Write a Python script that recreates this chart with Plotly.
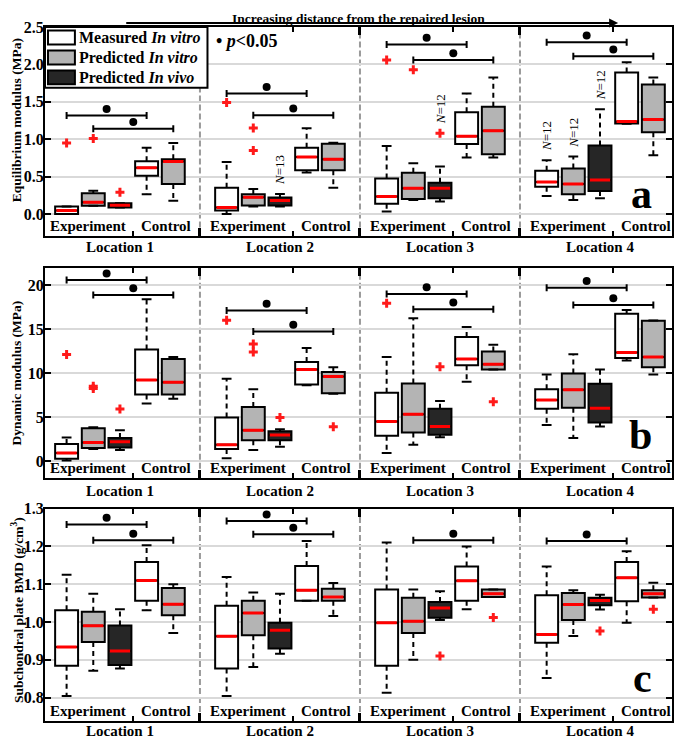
import plotly.graph_objects as go

FONT = "Liberation Serif, Times New Roman, serif"

# box order inside each location:
# Measured exp, Predicted in vitro exp, Predicted in vivo exp, Measured control, Predicted in vitro control
fills = ["white", "#b4b4b4", "#262626", "white", "#b4b4b4"]
locations = ["Location 1", "Location 2", "Location 3", "Location 4"]
legend_names = ["Measured <i>In vitro</i>", "Predicted <i>In vitro</i>", "Predicted <i>In vivo</i>"]

# a: equilibrium modulus (MPa)
a_lo = [0.0, 0.11, 0.086, 0.263, 0.175, 0.0, 0.1, 0.1, 0.555, 0.35,
        0.033, 0.188, 0.166, 0.756, 0.756, 0.24, 0.188, 0.21, 1.205, 0.785]
a_q1 = [0.0, 0.11, 0.086, 0.51, 0.40, 0.046, 0.113, 0.113, 0.586, 0.586,
        0.135, 0.201, 0.21, 0.935, 0.798, 0.365, 0.263, 0.307, 1.21, 1.094]
a_med = [0.045, 0.157, 0.117, 0.617, 0.70, 0.086, 0.223, 0.179, 0.763, 0.732,
         0.232, 0.343, 0.343, 1.04, 1.112, 0.427, 0.40, 0.453, 1.236, 1.262]
a_q3 = [0.1, 0.276, 0.143, 0.705, 0.73, 0.35, 0.263, 0.22, 0.886, 0.94,
        0.475, 0.55, 0.418, 1.36, 1.434, 0.577, 0.608, 0.917, 1.89, 1.73]
a_hi = [0.1, 0.31, 0.143, 0.886, 0.95, 0.696, 0.334, 0.268, 1.147, 0.952,
        0.908, 0.679, 0.634, 1.61, 1.824, 0.718, 0.77, 1.40, 2.03, 1.824]
a_out_box = [0, 1, 2, 5, 6, 6, 10, 11, 12]
a_out_val = [0.95, 1.01, 0.29, 1.49, 1.15, 0.85, 2.06, 1.93, 1.08]
a_sig_from = [0, 1, 5, 6, 10, 11, 15, 16]
a_sig_to = [3, 4, 8, 9, 13, 14, 18, 19]
a_sig_y = [1.315, 1.14, 1.61, 1.32, 2.266, 2.058, 2.297, 2.11]
a_n_box = [7, 12, 15, 16, 17]
a_n = [13, 12, 12, 12, 12]

# b: dynamic modulus (MPa)
b_lo = [0.05, 1.36, 1.24, 6.52, 7.08, 0.3, 1.24, 1.62, 8.62, 7.65,
        0.9, 1.85, 2.71, 9.0, 10.4, 4.1, 2.6, 3.92, 11.41, 9.83]
b_q1 = [0.25, 1.47, 1.54, 7.57, 7.57, 1.36, 2.37, 2.37, 8.7, 7.7,
        2.86, 3.24, 2.98, 10.88, 10.4, 5.95, 6.06, 4.37, 11.71, 10.66]
b_med = [0.9, 2.1, 2.18, 9.19, 8.96, 1.85, 3.5, 2.94, 10.4, 9.6,
         4.48, 5.31, 3.92, 11.6, 11.0, 6.93, 8.1, 5.99, 12.32, 11.83]
b_q3 = [1.92, 3.73, 2.6, 12.66, 11.6, 4.93, 6.14, 3.39, 11.26, 10.1,
        7.76, 8.81, 5.95, 14.09, 12.43, 8.14, 9.94, 8.78, 16.72, 15.93]
b_hi = [2.67, 3.84, 3.5, 18.38, 11.83, 9.34, 8.14, 3.6, 12.84, 10.66,
        11.83, 16.23, 6.82, 15.22, 13.2, 9.83, 12.13, 10.4, 17.17, 15.97]
b_out_box = [0, 1, 1, 2, 5, 6, 6, 7, 9, 10, 12, 14]
b_out_val = [12.1, 8.5, 8.25, 5.9, 16.0, 13.3, 12.4, 4.95, 3.9, 17.93, 10.7, 6.74]
b_sig_from = [0, 1, 5, 6, 10, 11, 15, 16]
b_sig_to = [3, 4, 8, 9, 13, 14, 18, 19]
b_sig_y = [20.56, 18.87, 17.1, 14.73, 18.98, 17.25, 19.7, 17.74]

# c: subchondral plate BMD (g/cm3)
c_lo = [0.804, 0.871, 0.877, 1.031, 0.971, 0.804, 0.881, 0.916, 1.056, 1.016,
        0.813, 0.9, 1.005, 1.034, 1.066, 0.852, 0.963, 1.033, 0.998, 1.065]
c_q1 = [0.884, 0.947, 0.886, 1.056, 1.018, 0.877, 0.965, 0.93, 1.056, 1.056,
        0.884, 0.971, 1.011, 1.056, 1.066, 0.945, 1.005, 1.044, 1.055, 1.065]
c_med = [0.934, 0.99, 0.923, 1.11, 1.047, 0.962, 1.024, 0.978, 1.084, 1.066,
         0.998, 1.002, 1.037, 1.109, 1.075, 0.967, 1.046, 1.057, 1.117, 1.075]
c_q3 = [1.031, 1.027, 0.991, 1.159, 1.09, 1.043, 1.056, 0.998, 1.148, 1.088,
        1.086, 1.064, 1.053, 1.147, 1.086, 1.071, 1.077, 1.064, 1.159, 1.084]
c_hi = [1.125, 1.075, 1.034, 1.203, 1.1, 1.119, 1.078, 1.075, 1.214, 1.103,
        1.21, 1.086, 1.081, 1.2, 1.086, 1.147, 1.084, 1.072, 1.187, 1.104]
c_out_box = [12, 14, 17, 19]
c_out_val = [0.91, 1.012, 0.976, 1.034]
c_sig_from = [0, 1, 5, 6, 11, 15]
c_sig_to = [3, 4, 8, 9, 14, 18]
c_sig_y = [1.258, 1.216, 1.267, 1.232, 1.216, 1.214]

pos = [loc * 6 + j + 1 for loc in range(4) for j in range(5)]

# the page body keeps its default 8px margin, so the figure is drawn 8px smaller
OFF = 8
W, H = 685 - OFF, 741 - OFF
ML, MR, MT, MB = 45 - OFF, 11, 25 - OFF, 20
PW, PH = W - ML - MR, H - MT - MB


def px_x(px):
    # page pixel -> paper x
    return (px - OFF - ML) / PW


def px_y(py):
    # page pixel -> paper y
    return (H + OFF - MB - py) / PH


fig = go.Figure()


def add_panel(n, lo, q1, med, q3, hi, out_box, out_val, sig_from, sig_to, sig_y, yrng, hpx):
    xa = "x" if n == 1 else "x%d" % n
    ya = "y" if n == 1 else "y%d" % n
    common = dict(xaxis=xa, yaxis=ya, showlegend=False, hoverinfo="skip")

    # whiskers (dashed) + caps
    wx, wy = [], []
    for p, a, b, c, d in zip(pos, lo, q1, q3, hi):
        wx += [p, p, None, p, p, None]
        wy += [c, d, None, b, a, None]
    fig.add_trace(go.Scatter(x=wx, y=wy, mode="lines",
                             line=dict(color="black", width=2, dash="5px,4px"), **common))
    fig.add_trace(go.Scatter(x=pos + pos, y=hi + lo, mode="markers",
                             marker=dict(symbol="line-ew", size=7, line=dict(width=2, color="black")),
                             **common))

    # boxes
    for j in range(3):
        idx = [i for i in range(20) if fills[i % 5] == fills[j]]
        fig.add_trace(go.Box(
            x=[pos[i] for i in idx], q1=[q1[i] for i in idx], median=[med[i] for i in idx],
            q3=[q3[i] for i in idx], lowerfence=[q1[i] for i in idx], upperfence=[q3[i] for i in idx],
            orientation="v", width=0.86, whiskerwidth=0, boxpoints=False,
            fillcolor=fills[j], line=dict(color="black", width=2), **common))

    # red medians
    fig.add_trace(go.Scatter(x=pos, y=med, mode="markers",
                             marker=dict(symbol="line-ew", size=14.5, line=dict(width=3, color="#ff0000")),
                             **common))
    # outliers
    fig.add_trace(go.Scatter(x=[pos[i] for i in out_box], y=out_val, mode="markers",
                             marker=dict(symbol="cross", size=7.5, color="#ff1a1a"), **common))

    # significance bars
    sx, sy = [], []
    for f, t, yv in zip(sig_from, sig_to, sig_y):
        sx += [pos[f], pos[t], None]
        sy += [yv, yv, None]
    fig.add_trace(go.Scatter(x=sx, y=sy, mode="lines+markers", line=dict(color="black", width=2),
                             marker=dict(symbol="line-ns", size=5, line=dict(width=2, color="black")),
                             **common))
    off = 6.7 * (yrng[1] - yrng[0]) / hpx
    fig.add_trace(go.Scatter(x=[(pos[f] + pos[t]) / 2 for f, t in zip(sig_from, sig_to)],
                             y=[yv + off for yv in sig_y], mode="markers",
                             marker=dict(symbol="circle", size=8, color="black"), **common))


add_panel(1, a_lo, a_q1, a_med, a_q3, a_hi, a_out_box, a_out_val, a_sig_from, a_sig_to, a_sig_y, [-0.3, 2.5], 210)
add_panel(2, b_lo, b_q1, b_med, b_q3, b_hi, b_out_box, b_out_val, b_sig_from, b_sig_to, b_sig_y, [-1.9, 21.9], 210)
add_panel(3, c_lo, c_q1, c_med, c_q3, c_hi, c_out_box, c_out_val, c_sig_from, c_sig_to, c_sig_y, [0.738, 1.3], 213)

panels = [
    # (y domain page px top, bottom), y range, tick values, tick format, title, title centre, label shift
    ((25, 235), [-0.3, 2.5], [0, 0.5, 1, 1.5, 2, 2.5], ".1f", "Equilibrium modulus (MPa)", 0.552, -2),
    ((267, 477), [-1.9, 21.9], [0, 5, 10, 15, 20], "d", "Dynamic modulus (MPa)", 0.5, -4),
    ((508, 721), [0.738, 1.3], [0.8, 0.9, 1.0, 1.1, 1.2, 1.3], ".1f",
     "Subchondral plate BMD (g/cm<sup>3</sup>)", 0.52, -1),
]

tfont = dict(family=FONT, size=16, color="black", weight="bold")
shapes = []
annotations = []
for n, (dom, rng, tv, fmt, title, tc, lshift) in enumerate(panels, start=1):
    s = "" if n == 1 else str(n)
    fig.update_layout({
        "xaxis" + s: dict(domain=[0, 1], anchor="y" + s, range=[0.19, 23.7], showticklabels=False,
                          tickmode="array", tickvals=[3.5, 9.5, 15.5, 21.5], ticks="inside",
                          ticklen=5, tickwidth=2, tickcolor="black",
                          minor=dict(tickmode="array", tickvals=[6, 12, 18], ticks="inside",
                                     ticklen=8, tickwidth=3, tickcolor="black", showgrid=False),
                          showline=True, linewidth=2, linecolor="black", mirror="ticks",
                          showgrid=False, zeroline=False),
        "yaxis" + s: dict(domain=[px_y(dom[1]), px_y(dom[0])], anchor="x" + s, range=rng,
                          tickmode="array", tickvals=tv, tickformat=fmt, ticks="inside",
                          ticklen=6, tickwidth=1.5, tickcolor="black", tickfont=tfont,
                          ticklabelstandoff=-4,
                          showline=True, linewidth=2, linecolor="black", mirror="ticks",
                          showgrid=True, gridcolor="#d9d9d9", gridwidth=2, zeroline=False),
    })
    xr = "x" + s
    yd = "y" + s + " domain"
    for v in [6, 12, 18]:
        shapes.append(dict(type="line", xref=xr, yref=yd, x0=v, x1=v, y0=0, y1=1, layer="below",
                           line=dict(color="#9a9a9a", width=2, dash="6px,3px")))
    for k, name in enumerate(locations):
        annotations.append(dict(text=name, x=k * 6 + 3, xref=xr, y=0, yref=yd, yanchor="top",
                                yshift=lshift, showarrow=False, borderpad=0,
                                font=dict(family=FONT, size=15, color="black", weight="bold")))
        annotations.append(dict(text="Experiment", x=k * 6 + 3.5, xref=xr, xanchor="right", xshift=-5,
                                y=0, yref=yd, yanchor="bottom", yshift=0, showarrow=False,
                                font=dict(family=FONT, size=15, color="black", weight="bold")))
        annotations.append(dict(text="Control", x=k * 6 + 3.5, xref=xr, xanchor="left", xshift=6,
                                y=0, yref=yd, yanchor="bottom", yshift=0, showarrow=False,
                                font=dict(family=FONT, size=15, color="black", weight="bold")))
    annotations.append(dict(text=title, textangle=-90, x=0, xref="paper", xanchor="left",
                            xshift=-ML, y=tc, yref=yd, yanchor="middle", showarrow=False, borderpad=0,
                            font=dict(family=FONT, size=13.5, color="black", weight="bold")))
    annotations.append(dict(text="abc"[n - 1], x=0.971, xref="x" + s + " domain", y=0.085, yref=yd,
                            yanchor="bottom", showarrow=False,
                            font=dict(family=FONT, size=42, color="black", weight="bold")))

# N labels on panel a
for i, nv in zip(a_n_box, a_n):
    top = max([a_hi[i]] + [v for b, v in zip(a_out_box, a_out_val) if b == i])
    annotations.append(dict(text="<i>N</i>=%d" % nv, textangle=-90, x=pos[i], xref="x", y=top, yref="y",
                            yanchor="bottom", yshift=7, showarrow=False,
                            font=dict(family=FONT, size=13, color="black")))

# legend (drawn by hand, MATLAB style)
shapes.append(dict(type="rect", xref="paper", yref="paper", x0=px_x(45), x1=px_x(208),
                   y0=px_y(86), y1=px_y(25), fillcolor="white", line=dict(color="black", width=2),
                   layer="above"))
for r, (name, col) in enumerate(zip(legend_names, fills[:3])):
    cy = 35.5 + r * 20
    shapes.append(dict(type="rect", xref="paper", yref="paper", x0=px_x(48), x1=px_x(75),
                       y0=px_y(cy + 7), y1=px_y(cy - 7), fillcolor=col,
                       line=dict(color="black", width=2), layer="above"))
    annotations.append(dict(text=name, x=px_x(77), xref="paper", xanchor="left", y=px_y(cy),
                            yref="paper", yanchor="middle", showarrow=False,
                            font=dict(family=FONT, size=16, color="black", weight="bold")))
annotations.append(dict(text="\u2022 <i>p</i>&lt;0.05", x=px_x(215), xref="paper", xanchor="left",
                        y=px_y(39), yref="paper", yanchor="middle", showarrow=False,
                        font=dict(family=FONT, size=18, color="black", weight="bold")))

# top arrow
annotations.append(dict(text="Increasing distance from the repaired lesion", x=px_x(359), xref="paper",
                        y=px_y(OFF), yref="paper", yanchor="top", showarrow=False, borderpad=0,
                        font=dict(family=FONT, size=13.5, color="black", weight="bold")))
annotations.append(dict(text="", x=21.68, xref="x", y=px_y(21), yref="paper", ax=3.18, axref="x",
                        ay=0, ayref="pixel", showarrow=True, arrowhead=2, arrowsize=0.9,
                        arrowwidth=2, arrowcolor="black"))

fig.update_layout(
    width=W, height=H,
    margin=dict(l=ML, r=MR, t=MT, b=MB),
    plot_bgcolor="white", paper_bgcolor="white",
    font=dict(family=FONT, color="black"),
    boxmode="overlay",
    showlegend=False,
    shapes=shapes,
    annotations=annotations,
)

fig.write_html("out.html")
